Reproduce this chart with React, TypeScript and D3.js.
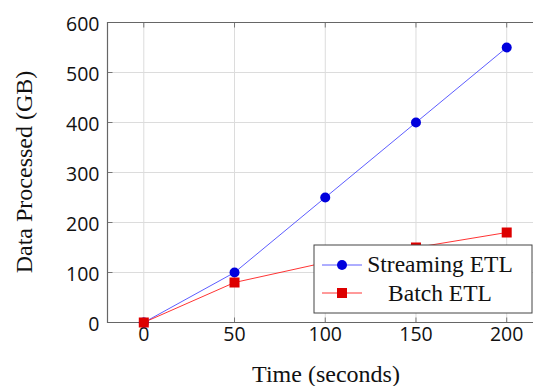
import React, { useRef, useEffect } from 'react';
import * as d3 from 'd3';

const times = [0, 50, 100, 150, 200];
const streaming = [0, 100, 250, 400, 550];
const batch = [0, 80, 120, 150, 180];
const xTicks = [0, 50, 100, 150, 200];
const yTicks = [0, 100, 200, 300, 400, 500, 600];

const W = 533;
const H = 386;
const margin = { left: 107.5, top: 22.5, right: -10, bottom: 63.5 };

const tickFont = '"Open Sans", "Noto Sans", sans-serif';
const titleFont = '"Liberation Serif", serif';

const App = () => {
  const svgRef = useRef<SVGSVGElement>(null);

  useEffect(() => {
    const svg = d3.select(svgRef.current);
    svg.selectAll('*').remove();

    const x = d3.scaleLinear().domain([-20, 220]).range([margin.left, W - margin.right]);
    const y = d3.scaleLinear().domain([0, 600]).range([H - margin.bottom, margin.top]);

    const g = svg.append('g');

    // grid
    g.selectAll('.vgrid').data(xTicks).join('line')
      .attr('x1', (d) => x(d)).attr('x2', (d) => x(d))
      .attr('y1', y(0)).attr('y2', y(600))
      .attr('stroke', '#dcdcdc').attr('stroke-width', 1);
    g.selectAll('.hgrid').data(yTicks).join('line')
      .attr('x1', x(-20)).attr('x2', x(220))
      .attr('y1', (d) => y(d)).attr('y2', (d) => y(d))
      .attr('stroke', '#dcdcdc').attr('stroke-width', 1);

    // tick marks (inside)
    xTicks.forEach((t) => {
      g.append('line').attr('x1', x(t)).attr('x2', x(t)).attr('y1', y(0)).attr('y2', y(0) - 5)
        .attr('stroke', '#777');
      g.append('line').attr('x1', x(t)).attr('x2', x(t)).attr('y1', y(600)).attr('y2', y(600) + 5)
        .attr('stroke', '#777');
    });
    yTicks.forEach((t) => {
      g.append('line').attr('x1', x(-20)).attr('x2', x(-20) + 5).attr('y1', y(t)).attr('y2', y(t))
        .attr('stroke', '#777');
    });

    // axis frame
    g.append('path')
      .attr('d', `M${x(220)},${y(600)}H${x(-20)}V${y(0)}H${x(220)}`)
      .attr('fill', 'none').attr('stroke', '#666').attr('stroke-width', 1.2);

    // tick labels
    g.selectAll('.xl').data(xTicks).join('text')
      .attr('x', (d) => x(d)).attr('y', y(0) + 18)
      .attr('text-anchor', 'middle')
      .style('font-family', tickFont).style('font-size', '19.5px')
      .attr('fill', '#111')
      .text((d) => String(d));
    g.selectAll('.yl').data(yTicks).join('text')
      .attr('x', x(-20) - 8).attr('y', (d) => y(d) + 8)
      .attr('text-anchor', 'end')
      .style('font-family', tickFont).style('font-size', '19.5px')
      .attr('fill', '#111')
      .text((d) => String(d));

    // axis titles
    g.append('text')
      .attr('x', 326).attr('y', 382)
      .attr('text-anchor', 'middle')
      .style('font-family', titleFont).style('font-size', '24px')
      .attr('fill', '#111')
      .text('Time (seconds)');
    g.append('text')
      .attr('transform', `translate(32, 172) rotate(-90)`)
      .attr('text-anchor', 'middle')
      .style('font-family', titleFont).style('font-size', '24px')
      .attr('fill', '#111')
      .text('Data Processed (GB)');

    const line = d3.line<number>().x((_, i) => x(times[i])).y((d) => y(d));

    // streaming series
    g.append('path').datum(streaming).attr('d', line)
      .attr('fill', 'none').attr('stroke', '#3333ff').attr('stroke-width', 0.8);
    g.selectAll('.sm').data(streaming).join('circle')
      .attr('cx', (_, i) => x(times[i])).attr('cy', (d) => y(d)).attr('r', 5)
      .attr('fill', '#0000dd');
    // batch series
    g.append('path').datum(batch).attr('d', line)
      .attr('fill', 'none').attr('stroke', '#ff0000').attr('stroke-width', 0.8);
    g.selectAll('.bm').data(batch).join('rect')
      .attr('x', (_, i) => x(times[i]) - 5).attr('y', (d) => y(d) - 5)
      .attr('width', 10).attr('height', 10)
      .attr('fill', '#dd0000');

    // legend
    const lg = g.append('g').attr('transform', 'translate(314, 245)');
    lg.append('rect').attr('width', 218).attr('height', 68)
      .attr('fill', 'white').attr('stroke', '#444').attr('stroke-width', 1);
    lg.append('line').attr('x1', 8).attr('x2', 48).attr('y1', 20).attr('y2', 20)
      .attr('stroke', '#3333ff').attr('stroke-width', 0.8);
    lg.append('circle').attr('cx', 28).attr('cy', 20).attr('r', 5).attr('fill', '#0000dd');
    lg.append('line').attr('x1', 8).attr('x2', 48).attr('y1', 48).attr('y2', 48)
      .attr('stroke', '#ff0000').attr('stroke-width', 0.8);
    lg.append('rect').attr('x', 23).attr('y', 43).attr('width', 10).attr('height', 10).attr('fill', '#dd0000');
    lg.append('text').attr('x', 126).attr('y', 27)
      .attr('text-anchor', 'middle')
      .style('font-family', titleFont).style('font-size', '23.5px')
      .attr('fill', '#111').text('Streaming ETL');
    lg.append('text').attr('x', 126).attr('y', 56)
      .attr('text-anchor', 'middle')
      .style('font-family', titleFont).style('font-size', '23.5px')
      .attr('fill', '#111').text('Batch ETL');
  }, []);

  return (
    <svg ref={svgRef} width={W} height={H}
      style={{ position: 'absolute', left: 0, top: 0, background: 'white' }} />
  );
};

export default App;
